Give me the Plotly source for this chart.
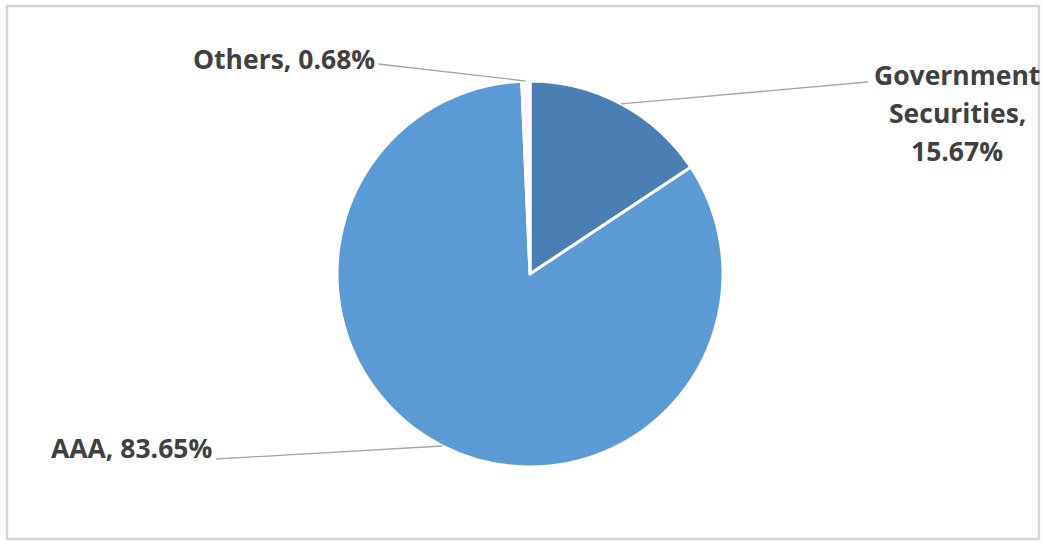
import math
import plotly.graph_objects as go

# Portfolio composition by rating
categories = ["Government Securities", "AAA", "Others"]
shares = [15.67, 83.65, 0.68]
slice_colors = ["#4a7fb6", "#5b9bd5", "#f4f7fb"]

W, H = 1044, 544
cx, cy, r = 530, 274, 193  # pie centre and radius in pixels

fig = go.Figure(
    go.Pie(
        labels=categories,
        values=shares,
        sort=False,
        direction="clockwise",
        rotation=0,
        textinfo="none",
        hoverinfo="label+percent",
        marker=dict(colors=slice_colors, line=dict(color="white", width=3)),
        domain=dict(x=[(cx - r) / W, (cx + r) / W], y=[1 - (cy + r) / H, 1 - (cy - r) / H]),
        showlegend=False,
    )
)


def px(x, y):
    return x / W, 1 - y / H


# Point on the rim at each slice's mid-angle (clockwise from 12 o'clock)
total = sum(shares)
mids = []
acc = 0.0
for v in shares:
    mids.append((acc + v / 2) / total * 360)
    acc += v
rim = [(cx + r * math.sin(math.radians(a)), cy - r * math.cos(math.radians(a))) for a in mids]

# Outer ends of the leader lines
label_ends = [(868, 82), (216, 459), (378, 64)]

shapes = []
for (x0, y0), (x1, y1) in zip(rim, label_ends):
    a0, b0 = px(x0, y0)
    a1, b1 = px(x1, y1)
    shapes.append(dict(type="line", xref="paper", yref="paper", x0=a0, y0=b0, x1=a1, y1=b1,
                       line=dict(color="#a6a6a6", width=1.3)))

# Chart frame
shapes.append(dict(type="rect", xref="paper", yref="paper", x0=7 / W, y0=1 - 539 / H,
                   x1=1039 / W, y1=1 - 6 / H, line=dict(color="#d4d4d4", width=2.5)))

font = dict(family="Open Sans", size=26.5, color="#404040")
annotations = []

# Government Securities label over three lines
gov_lines = ["Government", "Securities,", f"{shares[0]:.2f}%"]
for i, (txt, y) in enumerate(zip(gov_lines, [75, 113, 151])):
    x, yy = px(957, y)
    annotations.append(dict(xref="paper", yref="paper", x=x, y=yy, text=f"<b>{txt}</b>",
                            showarrow=False, xanchor="center", yanchor="middle", font=font))

x, yy = px(214, 448)
annotations.append(dict(xref="paper", yref="paper", x=x, y=yy, text=f"<b>{categories[1]}, {shares[1]:.2f}%</b>",
                        showarrow=False, xanchor="right", yanchor="middle", font=font))
x, yy = px(377, 59)
annotations.append(dict(xref="paper", yref="paper", x=x, y=yy, text=f"<b>{categories[2]}, {shares[2]:.2f}%</b>",
                        showarrow=False, xanchor="right", yanchor="middle", font=font))

fig.update_layout(
    width=W, height=H,
    margin=dict(l=0, r=0, t=0, b=0),
    paper_bgcolor="white",
    plot_bgcolor="white",
    shapes=shapes,
    annotations=annotations,
)

fig.write_html("out.html")
